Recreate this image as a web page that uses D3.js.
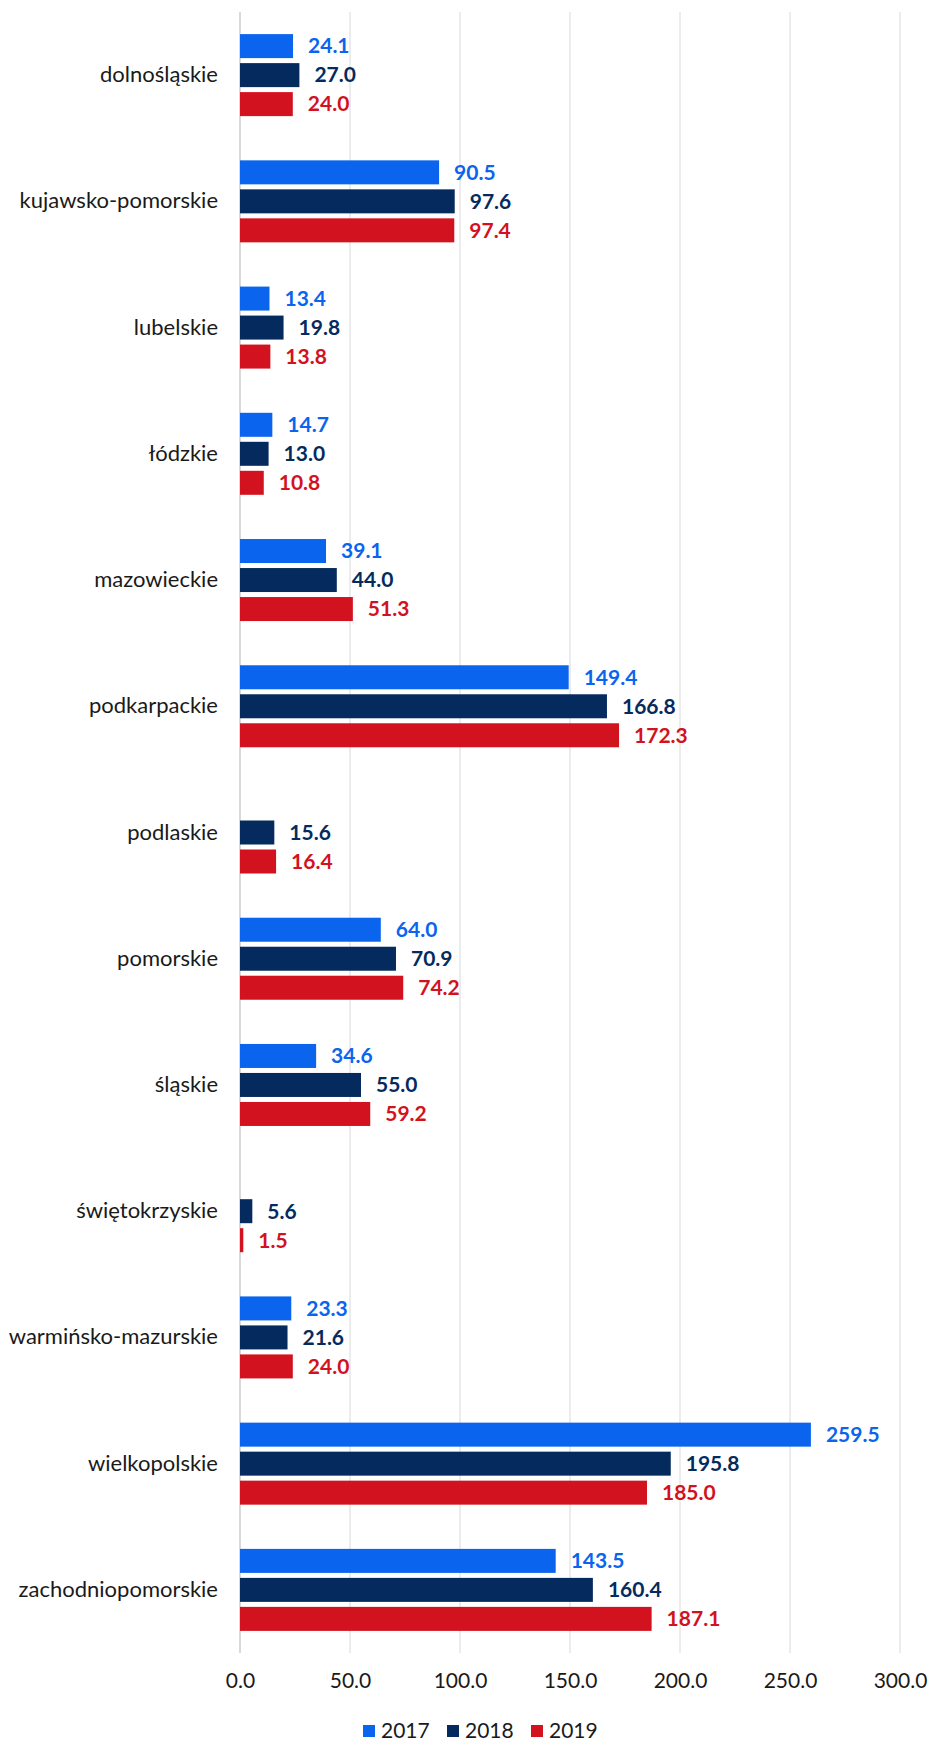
<!DOCTYPE html>
<html>
<head>
<meta charset="utf-8">
<script src="https://cdn.jsdelivr.net/npm/d3@7"></script>
<style>
  body { margin: 0; background: #fff; }
  text { font-family: Lato, "Noto Sans", sans-serif; }
</style>
</head>
<body>
<div id="chart"></div>
<script>
// Data
const regions = ["dolnośląskie", "kujawsko-pomorskie", "lubelskie", "łódzkie", "mazowieckie",
  "podkarpackie", "podlaskie", "pomorskie", "śląskie", "świętokrzyskie",
  "warmińsko-mazurskie", "wielkopolskie", "zachodniopomorskie"];
const years = ["2017", "2018", "2019"];
const values2017 = [24.1, 90.5, 13.4, 14.7, 39.1, 149.4, null, 64.0, 34.6, null, 23.3, 259.5, 143.5];
const values2018 = [27.0, 97.6, 19.8, 13.0, 44.0, 166.8, 15.6, 70.9, 55.0, 5.6, 21.6, 195.8, 160.4];
const values2019 = [24.0, 97.4, 13.8, 10.8, 51.3, 172.3, 16.4, 74.2, 59.2, 1.5, 24.0, 185.0, 187.1];
const xTicks = [0, 50, 100, 150, 200, 250, 300];

const colors = { "2017": "#0a64ee", "2018": "#052b5e", "2019": "#d2121e" };
const series = { "2017": values2017, "2018": values2018, "2019": values2019 };

const width = 930, height = 1742;
const margin = { top: 12, right: 30, bottom: 89, left: 240 };
const fontSize = 21;

const svg = d3.select("#chart").append("svg")
  .attr("width", width)
  .attr("height", height);

// Scales
const x = d3.scaleLinear().domain([0, 300]).range([margin.left, 900]);
const y = d3.scaleBand().domain(regions).range([margin.top, height - margin.bottom]);
const barH = 24, barStep = 29;
const yInner = d3.scalePoint().domain(years).range([-barStep, barStep]);

// Gridlines
svg.append("g")
  .selectAll("line")
  .data(xTicks)
  .join("line")
  .attr("x1", d => x(d)).attr("x2", d => x(d))
  .attr("y1", margin.top).attr("y2", height - margin.bottom)
  .attr("stroke", d => d === 0 ? "#d9d9d9" : "#ececec")
  .attr("stroke-width", 2);

// X axis labels
const xAxis = svg.append("g")
  .attr("transform", "translate(0," + (height - margin.bottom) + ")")
  .call(d3.axisBottom(x).tickValues(xTicks).tickFormat(d3.format(".1f")).tickSize(0).tickPadding(20));
xAxis.select(".domain").remove();
xAxis.selectAll("text")
  .attr("font-size", fontSize)
  .attr("font-family", "Lato, sans-serif")
  .attr("fill", "#1a1a1a");

// Category labels
const yAxis = svg.append("g")
  .attr("transform", "translate(" + (margin.left - 22) + ",0)")
  .call(d3.axisLeft(y).tickSize(0).tickPadding(0));
yAxis.select(".domain").remove();
yAxis.selectAll("text")
  .attr("font-size", 22)
  .attr("font-family", "Lato, sans-serif")
  .attr("fill", "#1a1a1a");

// Bars and value labels
years.forEach(yr => {
  const rows = regions.map((r, i) => ({ region: r, value: series[yr][i] }))
    .filter(d => d.value !== null);
  const cy = d => y(d.region) + y.bandwidth() / 2 + yInner(yr);

  svg.append("g")
    .selectAll("rect")
    .data(rows)
    .join("rect")
    .attr("x", x(0))
    .attr("y", d => cy(d) - barH / 2)
    .attr("width", d => x(d.value) - x(0))
    .attr("height", barH)
    .attr("fill", colors[yr]);

  svg.append("g")
    .selectAll("text")
    .data(rows)
    .join("text")
    .attr("x", d => x(d.value) + 15)
    .attr("y", d => cy(d))
    .attr("dy", "0.35em")
    .attr("font-size", fontSize)
    .attr("font-weight", "bold")
    .attr("fill", colors[yr])
    .text(d => d3.format(".1f")(d.value));
});

// Legend
const legend = svg.append("g")
  .attr("transform", "translate(363," + 1731 + ")");
const legendX = d3.scalePoint().domain(years).range([0, 168]);
years.forEach(yr => {
  const g = legend.append("g").attr("transform", "translate(" + legendX(yr) + ",0)");
  g.append("rect")
    .attr("x", 0).attr("y", -6)
    .attr("width", 12).attr("height", 12)
    .attr("fill", colors[yr]);
  g.append("text")
    .attr("x", 18).attr("dy", "0.35em")
    .attr("font-size", fontSize)
    .attr("fill", "#1a1a1a")
    .text(yr);
});
</script>
</body>
</html>
